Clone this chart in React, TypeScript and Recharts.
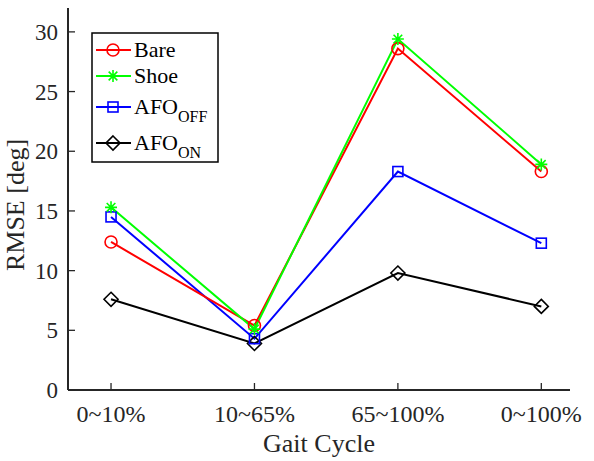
import React from 'react';
import { LineChart, Line, XAxis, YAxis, Customized } from 'recharts';

const categories = ['0~10%', '10~65%', '65~100%', '0~100%'];
const bare = [12.4, 5.4, 28.6, 18.3];
const shoe = [15.3, 5.1, 29.4, 18.9];
const afoOff = [14.5, 4.3, 18.3, 12.3];
const afoOn = [7.6, 3.9, 9.8, 7.0];
const yTicks = [0, 5, 10, 15, 20, 25, 30];
const xTicks = [1, 2, 3, 4];

const data = categories.map((c, i) => ({
  x: i + 1,
  bare: bare[i],
  shoe: shoe[i],
  afoOff: afoOff[i],
  afoOn: afoOn[i],
}));

const FONT = 'Liberation Serif';
const AX = '#262626';
const TXT = '#262626';

const Circle = ({ cx, cy, color }: any) => (
  <circle cx={cx} cy={cy} r={6} fill="none" stroke={color} strokeWidth={1.6} />
);
const Square = ({ cx, cy, color }: any) => (
  <rect x={cx - 5} y={cy - 5} width={10} height={10} fill="none" stroke={color} strokeWidth={1.6} />
);
const Diamond = ({ cx, cy, color }: any) => (
  <path d={`M${cx},${cy - 7}L${cx + 7},${cy}L${cx},${cy + 7}L${cx - 7},${cy}Z`} fill="none" stroke={color} strokeWidth={1.6} />
);
const Star = ({ cx, cy, color }: any) => {
  const r = 6;
  const d = r * 0.72;
  return (
    <path
      d={`M${cx - r},${cy}L${cx + r},${cy}M${cx},${cy - r}L${cx},${cy + r}M${cx - d},${cy - d}L${cx + d},${cy + d}M${cx - d},${cy + d}L${cx + d},${cy - d}`}
      stroke={color}
      strokeWidth={1.6}
      fill="none"
    />
  );
};

const mkDot = (Shape: any, color: string) => (props: any) => {
  const { cx, cy, index } = props;
  if (cx == null || cy == null) return <g key={index} />;
  return (
    <g key={`d-${color}-${index}`}>
      <Shape cx={cx} cy={cy} color={color} />
    </g>
  );
};

const GREEN = '#00FF00';

const legendItems = [
  { label: 'Bare', sub: '', color: '#FF0000', Shape: Circle, y: 50 },
  { label: 'Shoe', sub: '', color: GREEN, Shape: Star, y: 76 },
  { label: 'AFO', sub: 'OFF', color: '#0000FF', Shape: Square, y: 107 },
  { label: 'AFO', sub: 'ON', color: '#000000', Shape: Diamond, y: 143 },
];

const Overlay = () => (
  <g>
    <text
      x={319}
      y={452}
      textAnchor="middle"
      style={{ fontFamily: FONT, fontSize: 26, fill: TXT }}
    >
      Gait Cycle
    </text>
    <text
      x={0}
      y={0}
      transform="translate(24,205) rotate(-90)"
      textAnchor="middle"
      style={{ fontFamily: FONT, fontSize: 26, fill: TXT }}
    >
      RMSE [deg]
    </text>
    <rect x={92} y={33} width={126} height={129} fill="#fff" stroke="#000" strokeWidth={1.5} />
    {legendItems.map((it) => (
      <g key={it.label + it.sub}>
        <line x1={96} x2={131} y1={it.y} y2={it.y} stroke={it.color} strokeWidth={2} />
        <it.Shape cx={113} cy={it.y} color={it.color} />
        <text x={134} y={it.y + 7} style={{ fontFamily: FONT, fontSize: 22, fill: '#000' }}>
          {it.label}
          {it.sub ? (
            <tspan style={{ fontSize: 16 }} dy={8}>
              {it.sub}
            </tspan>
          ) : null}
        </text>
      </g>
    ))}
  </g>
);

export default function App() {
  return (
    <div style={{ position: 'absolute', left: 0, top: 0, width: 594, height: 461, background: '#fff', fontFamily: FONT }}>
      <LineChart
        width={594}
        height={461}
        data={data}
        margin={{ top: 8, right: 24, bottom: 0, left: 0 }}
        style={{ fontFamily: FONT }}
      >
        <XAxis
          dataKey="x"
          type="number"
          domain={[0.7, 4.2]}
          ticks={xTicks}
          tickFormatter={(v: number) => categories[v - 1]}
          height={71}
          axisLine={{ stroke: AX, strokeWidth: 2 }}
          tickLine={{ stroke: AX, strokeWidth: 1.3 }}
          tickSize={-7}
          tickMargin={22}
          tick={{ fill: TXT, fontFamily: FONT, fontSize: 24, style: { fontFamily: FONT } }}
          interval={0}
        />
        <XAxis
          xAxisId="top"
          orientation="top"
          type="number"
          domain={[0.7, 4.2]}
          ticks={xTicks}
          height={0}
          axisLine={{ stroke: AX, strokeWidth: 2 }}
          tickLine={{ stroke: AX, strokeWidth: 1.3 }}
          tickSize={-7}
          tickFormatter={() => ''}
          interval={0}
        />
        <YAxis
          type="number"
          domain={[0, 32]}
          ticks={yTicks}
          width={68}
          axisLine={{ stroke: AX, strokeWidth: 2 }}
          tickLine={{ stroke: AX, strokeWidth: 1.3 }}
          tickSize={-7}
          tickMargin={17}
          tick={{ fill: TXT, fontFamily: FONT, fontSize: 23, style: { fontFamily: FONT } }}
          interval={0}
        />
        <YAxis
          yAxisId="right"
          orientation="right"
          type="number"
          domain={[0, 32]}
          ticks={yTicks}
          width={0}
          axisLine={{ stroke: AX, strokeWidth: 2 }}
          tickLine={{ stroke: AX, strokeWidth: 1.3 }}
          tickSize={-7}
          tickFormatter={() => ''}
          interval={0}
        />
        <Line dataKey="afoOn" stroke="#000000" strokeWidth={2} dot={mkDot(Diamond, '#000000')} isAnimationActive={false} />
        <Line dataKey="afoOff" stroke="#0000FF" strokeWidth={2} dot={mkDot(Square, '#0000FF')} isAnimationActive={false} />
        <Line dataKey="bare" stroke="#FF0000" strokeWidth={2} dot={mkDot(Circle, '#FF0000')} isAnimationActive={false} />
        <Line dataKey="shoe" stroke={GREEN} strokeWidth={2} dot={mkDot(Star, GREEN)} isAnimationActive={false} />
        <Customized component={Overlay} />
      </LineChart>
    </div>
  );
}
